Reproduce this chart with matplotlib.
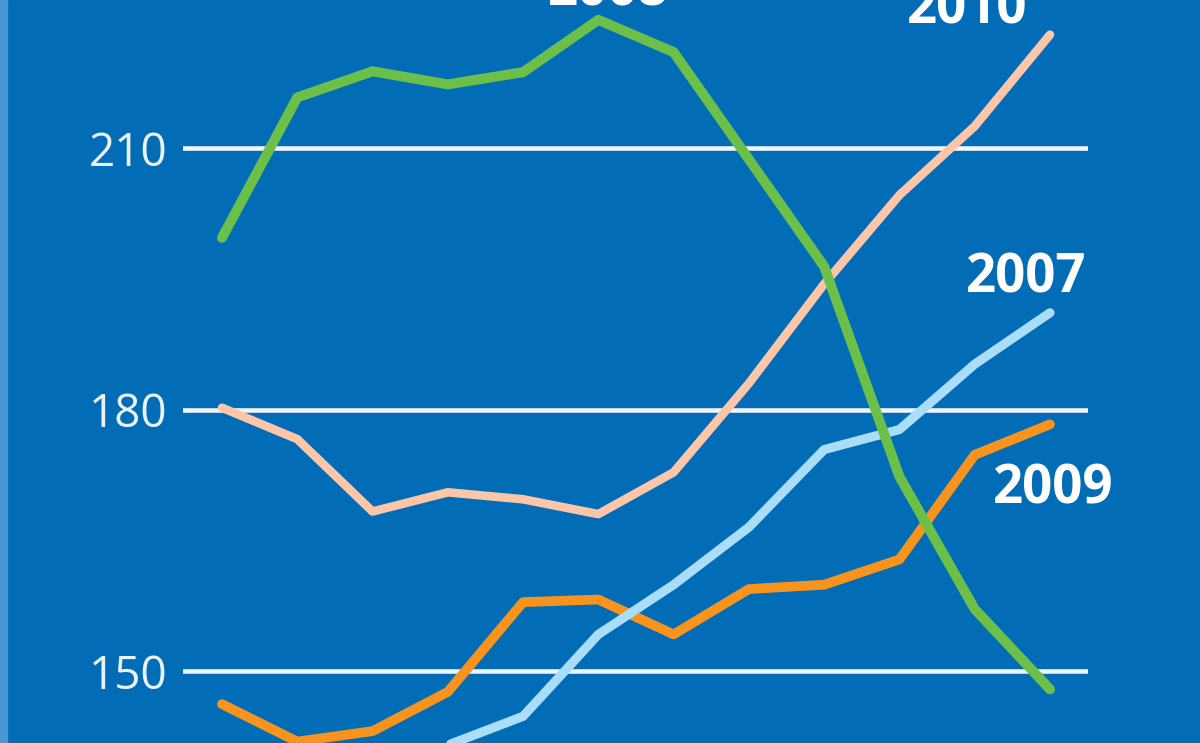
import matplotlib
matplotlib.use("Agg")
import matplotlib.pyplot as plt
from matplotlib.patches import Rectangle

months = ["Jan", "Feb", "Mar", "Apr", "May", "Jun",
          "Jul", "Aug", "Sep", "Oct", "Nov", "Dec"]

# values (index units)
y2008 = [199.7, 215.8, 218.8, 217.3, 218.7, 224.7, 221.0, 208.7, 196.4, 172.3, 157.1, 147.9]
y2010 = [180.2, 176.6, 168.3, 170.5, 169.7, 168.0, 172.8, 183.0, 194.4, 204.6, 212.5, 223.0]
y2007 = [136.0, 137.5, 139.0, 141.5, 144.8, 154.2, 159.9, 166.5, 175.4, 177.7, 185.2, 191.1]
y2009 = [146.2, 141.9, 143.1, 147.6, 157.9, 158.2, 154.2, 159.4, 159.9, 162.8, 174.8, 178.3]

yticks = [150, 180, 210]

bg = "#036cb6"
plt.rcParams['font.family'] = ['Open Sans', 'DejaVu Sans']

fig = plt.figure(figsize=(12, 7.43), dpi=100, facecolor=bg)
# light strip on the left edge
fig.patches.append(Rectangle((0, 0), 7 / 1200, 1, transform=fig.transFigure,
                             color="#4a97d6", zorder=0))

ax = fig.add_axes([183 / 1200, 0, 905 / 1200, 1])
ax.set_facecolor(bg)
x = list(range(len(months)))

ax.plot(x, y2010, color="#fdc6a9", lw=6.2, solid_capstyle="round", solid_joinstyle="round", zorder=3)
ax.plot(x, y2009, color="#f8941e", lw=7.0, solid_capstyle="round", solid_joinstyle="round", zorder=4)
ax.plot(x, y2007, color="#a9ddf8", lw=6.6, solid_capstyle="round", solid_joinstyle="round", zorder=5)
ax.plot(x, y2008, color="#6cc04a", lw=7.2, solid_capstyle="round", solid_joinstyle="round", zorder=6)

ax.set_xlim(-0.518, 11.505)
ax.set_ylim(141.74, 226.98)

ax.set_yticks(yticks)
ax.set_yticklabels([str(t) for t in yticks])
ax.tick_params(axis="y", length=0, pad=11, labelsize=33, labelcolor="#eaf3fa")
ax.set_xticks([])
ax.grid(axis="y", color="#eef5fb", lw=3.3, zorder=1)
for s in ax.spines.values():
    s.set_visible(False)

lab = dict(color="white", fontsize=38, fontweight="bold", ha="center", va="baseline", zorder=7)
ax.text(5.13, 226.4, "2008", **lab)
ax.text(9.90, 224.33, "2010", **lab)
ax.text(10.68, 193.48, "2007", **lab)
ax.text(11.04, 169.27, "2009", **lab)

fig.savefig("out.png", dpi=100, facecolor=bg)
